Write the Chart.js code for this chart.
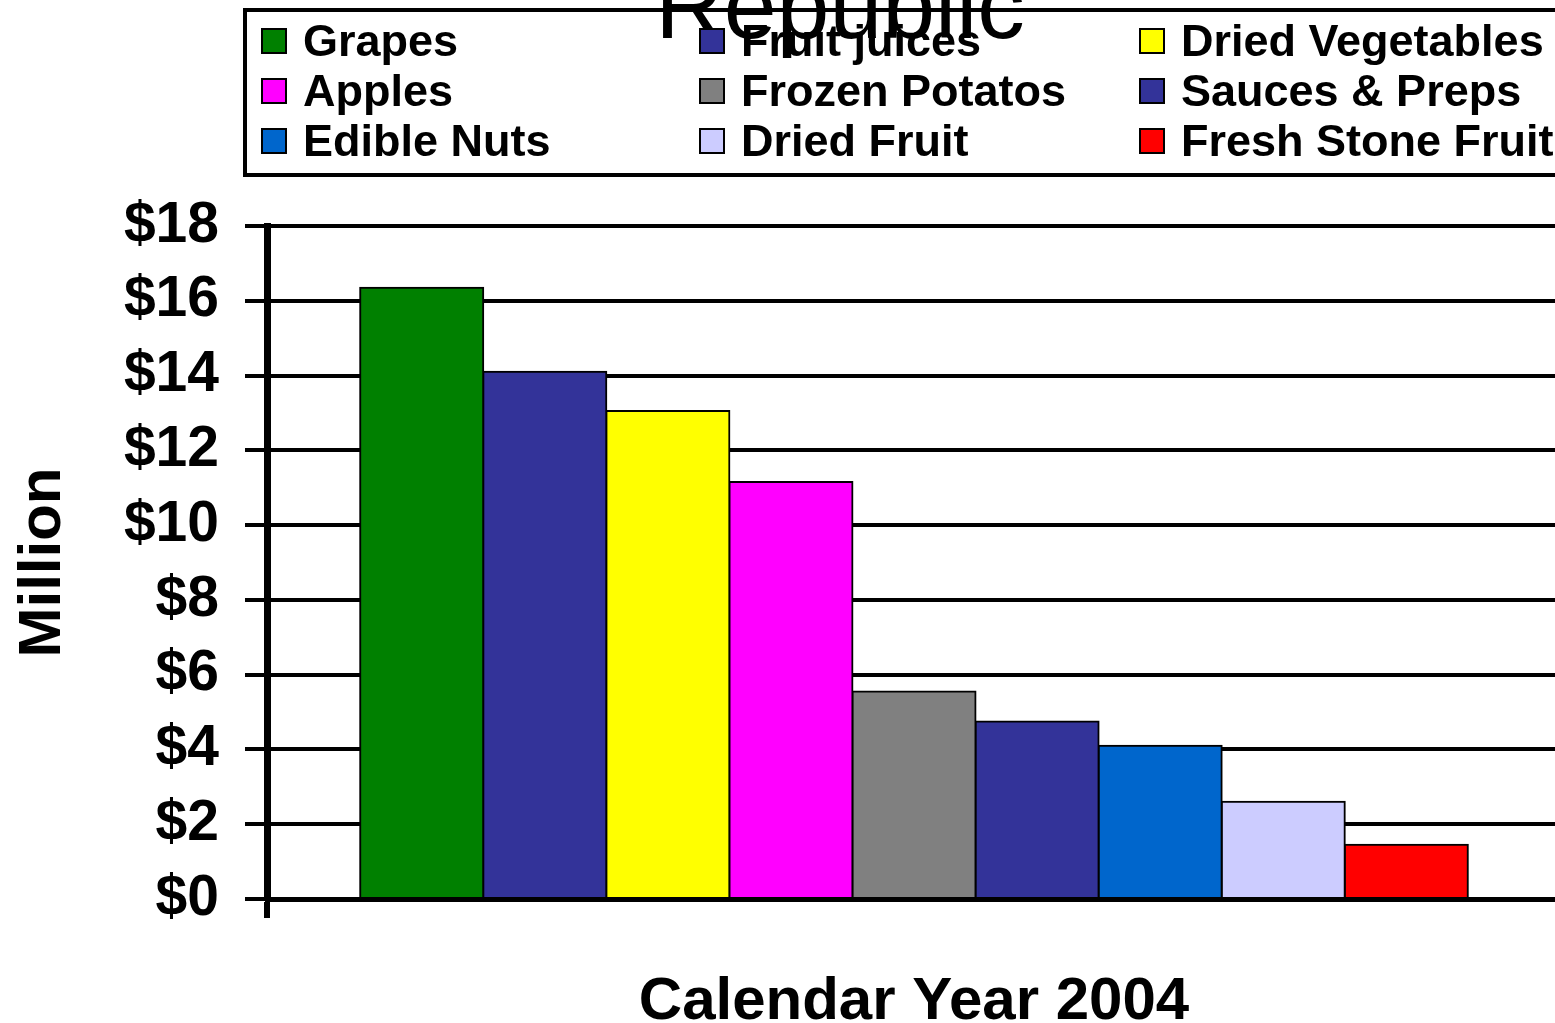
<!DOCTYPE html>
<html>
<head>
<meta charset="utf-8">
<script src="https://cdn.jsdelivr.net/npm/chart.js@4/dist/chart.umd.min.js"></script>
<style>
  html, body { margin: 0; padding: 0; background: #fff; overflow: hidden; }
</style>
</head>
<body>
<canvas id="chart" width="1562" height="1023"></canvas>
<script>
// data (values in $ million)
const categories = [""];
const seriesNames = [
  "Grapes", "Fruit juices", "Dried Vegetables",
  "Apples", "Frozen Potatos", "Sauces & Preps",
  "Edible Nuts", "Dried Fruit", "Fresh Stone Fruit",
];
const seriesValues = [16.35, 14.1, 13.05, 11.15, 5.55, 4.75, 4.1, 2.6, 1.45];
const seriesColors = [
  "#008000", "#333399", "#ffff00",
  "#ff00ff", "#808080", "#333399",
  "#0066cc", "#ccccff", "#ff0000",
];
const yTickMin = 0;
const yTickMax = 18;
const yTickStep = 2;
const chartTitle = "Republic";
const xAxisTitle = "Calendar Year 2004";
const yAxisTitle = "Million";

const FONT = '"Liberation Sans", Arial, sans-serif';

// title sits half cut off at the top of the slide
const titlePlugin = {
  id: "slideTitle",
  afterDraw(chart) {
    const ctx = chart.ctx;
    ctx.save();
    ctx.fillStyle = "#000";
    ctx.font = "95px " + FONT;
    ctx.textAlign = "center";
    ctx.textBaseline = "alphabetic";
    ctx.fillText(chartTitle, 840, 38);
    ctx.restore();
  },
};

// boxed legend, 3 columns, row-major
const boxLegend = {
  id: "boxLegend",
  afterDraw(chart) {
    const ctx = chart.ctx;
    const colX = [262, 700, 1140];
    const rowY = [41, 91, 141];
    ctx.save();
    ctx.strokeStyle = "#000";
    ctx.lineWidth = 4;
    ctx.strokeRect(245, 10, 1400, 165);
    ctx.font = "bold 45px " + FONT;
    ctx.textBaseline = "middle";
    chart.data.datasets.forEach((ds, i) => {
      const x = colX[i % 3];
      const y = rowY[Math.floor(i / 3)];
      ctx.fillStyle = ds.backgroundColor;
      ctx.fillRect(x, y - 12, 24, 24);
      ctx.lineWidth = 2;
      ctx.strokeRect(x, y - 12, 24, 24);
      ctx.fillStyle = "#000";
      ctx.fillText(ds.label, x + 41, y + 3);
    });
    ctx.restore();
  },
};

const ctx = document.getElementById("chart").getContext("2d");

new Chart(ctx, {
  type: "bar",
  data: {
    labels: categories,
    datasets: seriesNames.map((name, i) => ({
      label: name,
      data: [seriesValues[i]],
      backgroundColor: seriesColors[i],
      borderColor: "#000",
      borderWidth: 2,
      inflateAmount: 1,
      categoryPercentage: 0.856,
      barPercentage: 1.0,
    })),
  },
  options: {
    responsive: false,
    animation: false,
    devicePixelRatio: 1,
    layout: { padding: { top: 226, right: 1, left: 0, bottom: 0 } },
    plugins: {
      legend: { display: false },
      title: { display: false },
      tooltip: { enabled: false },
    },
    scales: {
      x: {
        afterFit(scale) { scale.height = 124; },
        grid: {
          display: true,
          drawOnChartArea: false,
          drawTicks: true,
          tickLength: 19,
          color: "#000",
          lineWidth: 6,
        },
        border: { display: true, color: "#000", width: 5 },
        ticks: { display: false },
        title: {
          display: true,
          text: xAxisTitle,
          color: "#000",
          font: { family: FONT, size: 60, weight: "bold", lineHeight: 0.7 },
          padding: 0,
        },
      },
      y: {
        min: yTickMin,
        max: yTickMax,
        afterFit(scale) { scale.width = 267; },
        grid: {
          color: "#000",
          lineWidth: 4,
          drawTicks: true,
          tickLength: 22,
        },
        border: { display: true, color: "#000", width: 7 },
        ticks: {
          stepSize: yTickStep,
          padding: 26,
          color: "#000",
          font: { family: FONT, size: 57, weight: "bold" },
          callback: (v) => "$" + v,
        },
        title: {
          display: true,
          text: yAxisTitle,
          color: "#000",
          font: { family: FONT, size: 60, weight: "bold", lineHeight: 1.2 },
          padding: { top: 7, bottom: 0 },
        },
      },
    },
  },
  plugins: [titlePlugin, boxLegend],
});
</script>
</body>
</html>
